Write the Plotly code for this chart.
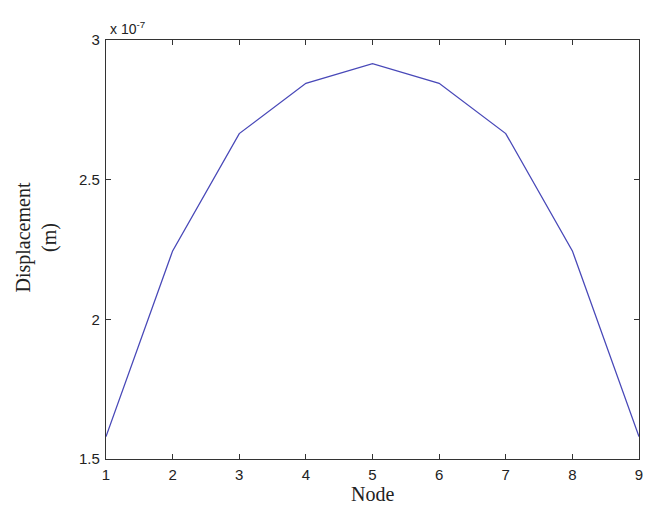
import plotly.graph_objects as go

nodes = [1, 2, 3, 4, 5, 6, 7, 8, 9]
disp_e7 = [1.58, 2.245, 2.665, 2.845, 2.915, 2.845, 2.665, 2.245, 1.58]
x_ticks = [1, 2, 3, 4, 5, 6, 7, 8, 9]
y_ticks = [1.5, 2, 2.5, 3]
y_tick_labels = ["1.5", "2", "2.5", "3"]
scale = 1e-7

disp = [v * scale for v in disp_e7]

fig = go.Figure()
fig.add_trace(go.Scatter(x=nodes, y=disp, mode="lines",
                         line=dict(color="#4848b8", width=1.3),
                         showlegend=False, hoverinfo="skip"))

axis_common = dict(showgrid=False, zeroline=False, showline=True, linecolor="#333333",
                   linewidth=1.3, mirror="ticks", ticks="inside", ticklen=5,
                   tickcolor="#333333", tickwidth=1, automargin=False,
                   ticklabeloverflow="allow",
                   tickfont=dict(family="Liberation Sans, Arial", size=15, color="#222222"))

fig.update_xaxes(range=[1, 9], tickvals=x_ticks, ticklabelstandoff=2, **axis_common)
fig.update_yaxes(range=[1.5 * scale, 3 * scale], tickvals=[t * scale for t in y_ticks],
                 ticktext=y_tick_labels, ticklabelstandoff=2, **axis_common)

title_font = dict(family="Liberation Serif, Times New Roman", size=20, color="#222222")
fig.add_annotation(text="Node", xref="paper", yref="paper", x=0.5, y=0,
                   xanchor="center", yanchor="top", yshift=-22, showarrow=False,
                   font=title_font)
fig.add_annotation(text="Displacement<br>(m)", xref="paper", yref="paper", x=0, y=0.5,
                   xanchor="center", yanchor="middle", xshift=-70, yshift=12,
                   textangle=-90, showarrow=False, font=title_font)

fig.add_annotation(text="x 10<sup>-7</sup>", xref="paper", yref="paper", x=0.0, y=1.0,
                   xanchor="left", yanchor="bottom", showarrow=False, yshift=1, xshift=2,
                   font=dict(family="Liberation Sans, Arial", size=14, color="#222222"))

fig.update_layout(width=647, height=509, plot_bgcolor="white", paper_bgcolor="white",
                  margin=dict(l=106, r=8, t=40, b=50))

fig.write_html("out.html", config={"displayModeBar": False},
               post_script="document.body.style.margin='0';document.body.style.overflow='hidden';")
